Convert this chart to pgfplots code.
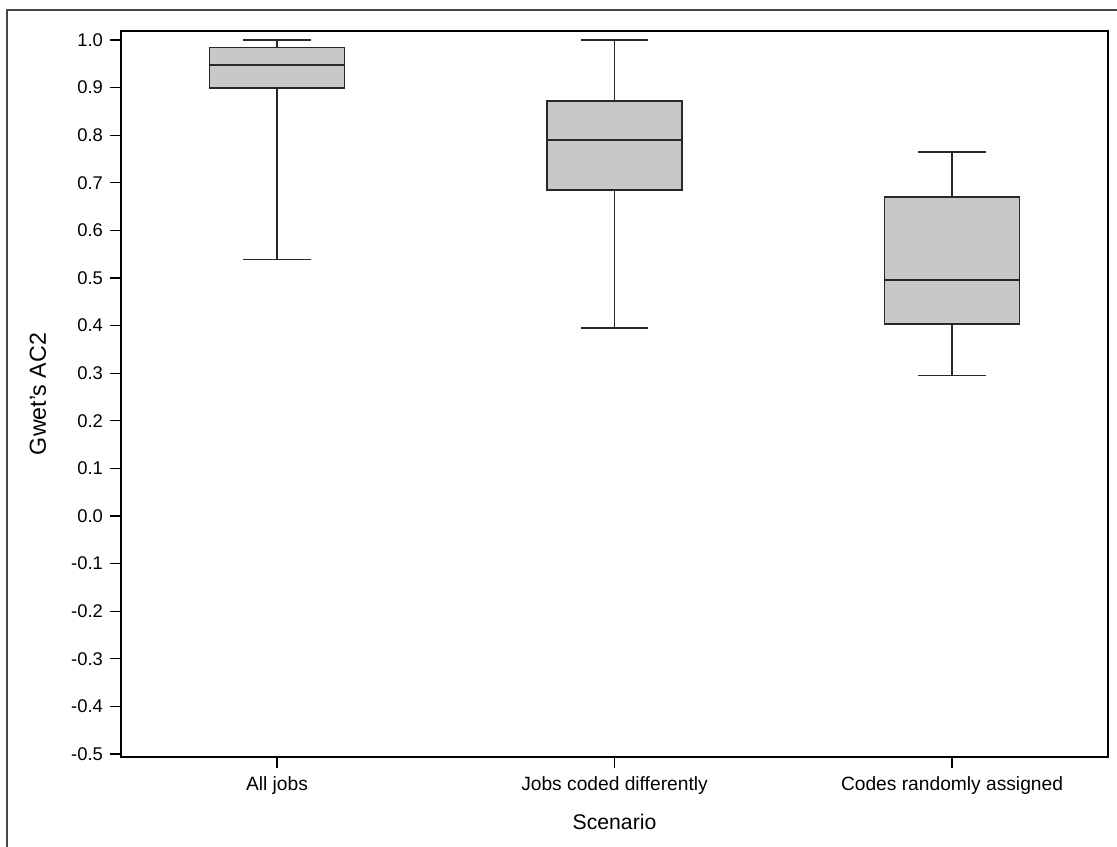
\documentclass[border=0pt]{standalone}
\usepackage{fontspec}
\setmainfont{Liberation Sans}
\usepackage{pgfplots}
\pgfplotsset{compat=1.18}
\usepgfplotslibrary{statistics}
\definecolor{boxfill}{RGB}{200,200,200}
\definecolor{boxedge}{RGB}{40,40,40}
\definecolor{framegray}{RGB}{70,70,70}
\begin{document}
\begin{tikzpicture}
% page bounding box (1117 x 846 px at 0.5pt/px), axis box lower-left at (0,0)
\path[use as bounding box] (-60.5pt,-44.5pt) rectangle (498pt,378.5pt);
\draw[framegray, line width=0.9pt] (-57pt,-50pt) -- (-57pt,373.5pt) -- (510pt,373.5pt);
\begin{axis}[
  at={(0,0)}, anchor=south west,
  scale only axis,
  width=493.5pt, height=363pt,
  xmin=0.5378, xmax=3.4622,
  ymin=-0.5063, ymax=1.0189,
  xtick={1,2,3},
  xticklabels={All jobs, Jobs coded differently, Codes randomly assigned},
  ytick={-0.5,-0.4,...,1.01},
  yticklabel style={/pgf/number format/.cd, fixed, fixed zerofill, precision=1, assume math mode=true},
  tick align=outside,
  tick pos=left,
  major tick length=5.5pt,
  tick style={black, line width=0.6pt},
  axis line style={black, line width=0.9pt},
  ticklabel style={font=\fontsize{9.2}{10}\selectfont},
  xticklabel style={font=\fontsize{9.6}{11}\selectfont, yshift=-1pt},
  xlabel={Scenario},
  ylabel={Gwet's AC2},
  xlabel style={font=\fontsize{10.6}{12}\selectfont, at={(axis description cs:0.5,-0.0895)}, anchor=center},
  ylabel style={font=\fontsize{11.6}{13}\selectfont, at={(axis description cs:-0.0841,0.5)}, anchor=center},
  boxplot/draw direction=y,
  boxplot/every median/.style={line width=1pt},
  clip=false,
]
\addplot[boxplot prepared={
  lower whisker=0.539, lower quartile=0.899, median=0.948,
  upper quartile=0.984, upper whisker=1.0,
  draw position=1, box extend=0.4, whisker extend=0.2},
  draw=boxedge, fill=boxfill, line width=0.75pt] coordinates {};
\addplot[boxplot prepared={
  lower whisker=0.395, lower quartile=0.685, median=0.790,
  upper quartile=0.872, upper whisker=1.0,
  draw position=2, box extend=0.4, whisker extend=0.2},
  draw=boxedge, fill=boxfill, line width=0.75pt] coordinates {};
\addplot[boxplot prepared={
  lower whisker=0.295, lower quartile=0.403, median=0.495,
  upper quartile=0.670, upper whisker=0.765,
  draw position=3, box extend=0.4, whisker extend=0.2},
  draw=boxedge, fill=boxfill, line width=0.75pt] coordinates {};
\end{axis}
\end{tikzpicture}
\end{document}
